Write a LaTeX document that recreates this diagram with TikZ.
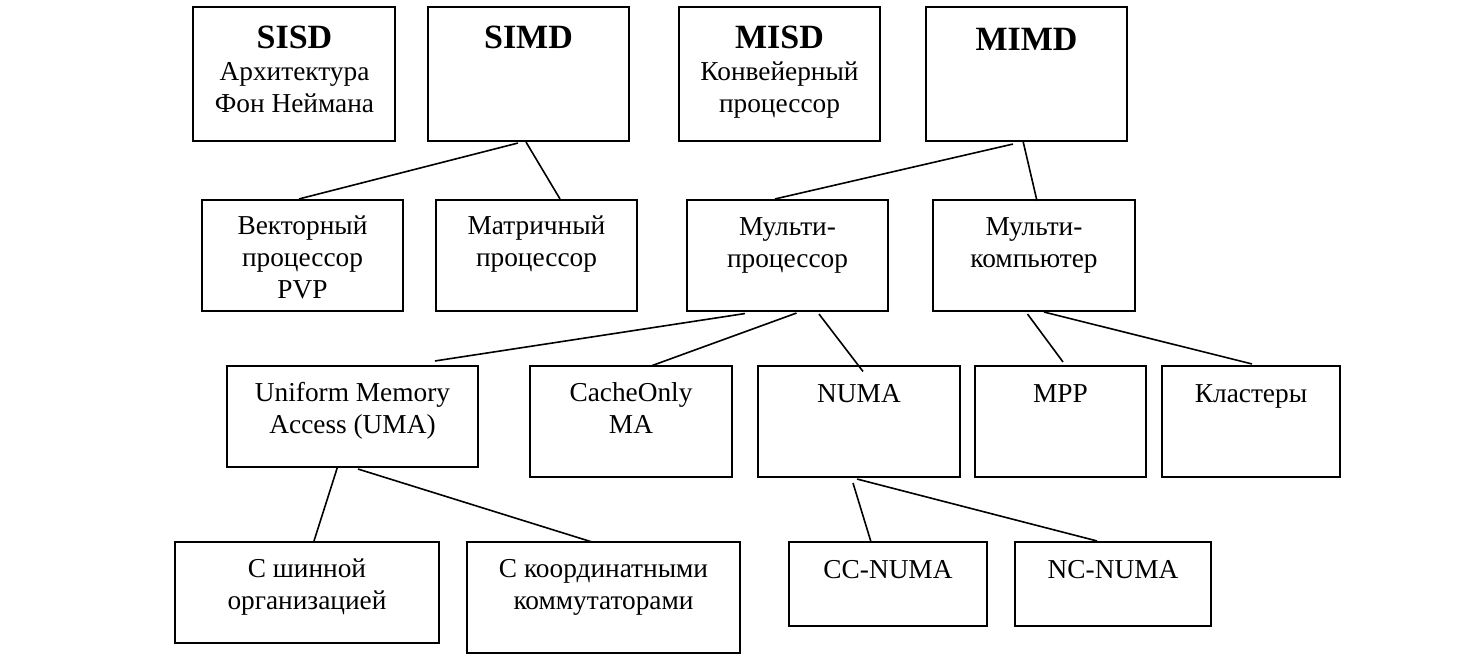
\documentclass[tikz,border=0pt]{standalone}
\usepackage{fontspec}
\setmainfont{Liberation Serif}
\usetikzlibrary{fit,calc}
\newcommand\bighead[1]{{\fontsize{25.5}{24}\selectfont\bfseries #1}}
\newcommand\topstrut{\rule{0pt}{18pt}}
\begin{document}
\begin{tikzpicture}[x=0.75pt,y=-0.75pt,
  box/.style={draw,line width=1.55pt,inner sep=0pt,rectangle},
  conn/.style={line width=1.2pt},
  txt/.style={anchor=north,inner sep=0pt,align=center,font=\fontsize{20.5}{24}\selectfont},
]
\useasboundingbox[fill=white] (0,0) rectangle (1482,659);

% boxes
\node[box,fit={(193,7) (395,141)}] (sisd) {};
\node[box,fit={(428,7) (629,141)}] (simd) {};
\node[box,fit={(679,7) (880,141)}] (misd) {};
\node[box,fit={(926,7) (1127,141)}] (mimd) {};
\node[box,fit={(202,200) (403,311)}] (vec) {};
\node[box,fit={(436,200) (637,311)}] (mat) {};
\node[box,fit={(687,200) (888,311)}] (mp) {};
\node[box,fit={(933,200) (1135,311)}] (mc) {};
\node[box,fit={(227,366) (478,467)}] (uma) {};
\node[box,fit={(530,366) (732,477)}] (coma) {};
\node[box,fit={(758,366) (960,477)}] (numa) {};
\node[box,fit={(975,366) (1146,477)}] (mpp) {};
\node[box,fit={(1162,366) (1340,477)}] (clu) {};
\node[box,fit={(175,542) (439,643)}] (bus) {};
\node[box,fit={(467,542) (740,653)}] (cross) {};
\node[box,fit={(789,542) (987,626)}] (cc) {};
\node[box,fit={(1015,542) (1211,626)}] (nc) {};

% texts
\node[txt] (sisd-t) at (294.5,24.5) {\topstrut\bighead{SISD}\\Архитектура\\Фон Неймана};
\node[txt] (simd-t) at (528.5,24.5) {\topstrut\bighead{SIMD}};
\node[txt] (misd-t) at (779.5,24.5) {\topstrut\bighead{MISD}\\Конвейерный\\процессор};
\node[txt] (mimd-t) at (1026.5,26.5) {\topstrut\bighead{MIMD}};
\node[txt] (vec-t) at (302.5,210) {\topstrut Векторный\\процессор\\PVP};
\node[txt] (mat-t) at (536.5,210) {\topstrut Матричный\\процессор};
\node[txt] (mp-t) at (787.5,211) {\topstrut Мульти-\\процессор};
\node[txt] (mc-t) at (1034,211) {\topstrut Мульти-\\компьютер};
\node[txt] (uma-t) at (352.5,377) {\topstrut Uniform Memory\\Access (UMA)};
\node[txt] (coma-t) at (631,377) {\topstrut CacheOnly\\MA};
\node[txt] (numa-t) at (859,378) {\topstrut NUMA};
\node[txt] (mpp-t) at (1060.5,378) {\topstrut MPP};
\node[txt] (clu-t) at (1251,378) {\topstrut Кластеры};
\node[txt] (bus-t) at (307,553) {\topstrut С шинной\\организацией};
\node[txt] (cross-t) at (603.5,553) {\topstrut С координатными\\коммутаторами};
\node[txt] (cc-t) at (888,554) {\topstrut CC-NUMA};
\node[txt] (nc-t) at (1113,554) {\topstrut NC-NUMA};

% connectors
\draw[conn] ($(simd.south)+(-10.5,1)$) -- ($(vec.north)+(-3.5,0)$);
\draw[conn] ($(simd.south)+(-2.5,0)$) -- ($(mat.north)+(23.5,0)$);
\draw[conn] ($(mimd.south)+(-13.5,2)$) -- ($(mp.north)+(-12.5,0)$);
\draw[conn] ($(mimd.south)+(-3.5,-1)$) -- ($(mc.north)+(3,2)$);
\draw[conn] ($(mp.south)+(-42.5,1.5)$) -- ($(uma.north)+(82.5,-4)$);
\draw[conn] ($(mp.south)+(9,1)$) -- ($(coma.north)+(20,1)$);
\draw[conn] ($(mp.south)+(31.5,2)$) -- ($(numa.north)+(4,6.5)$);
\draw[conn] ($(mc.south)+(-6.5,2)$) -- ($(mpp.north)+(2.5,-3)$);
\draw[conn] ($(mc.south)+(10,0)$) -- ($(clu.north)+(1,-1)$);
\draw[conn] ($(uma.south)+(-15,-1)$) -- ($(bus.north)+(7,0)$);
\draw[conn] ($(uma.south)+(5.5,1)$) -- ($(cross.north)+(-11.5,1)$);
\draw[conn] ($(numa.south)+(-6,5)$) -- ($(cc.north)+(-17,1)$);
\draw[conn] ($(numa.south)+(-2,1)$) -- ($(nc.north)+(-16,0)$);
\end{tikzpicture}
\end{document}
